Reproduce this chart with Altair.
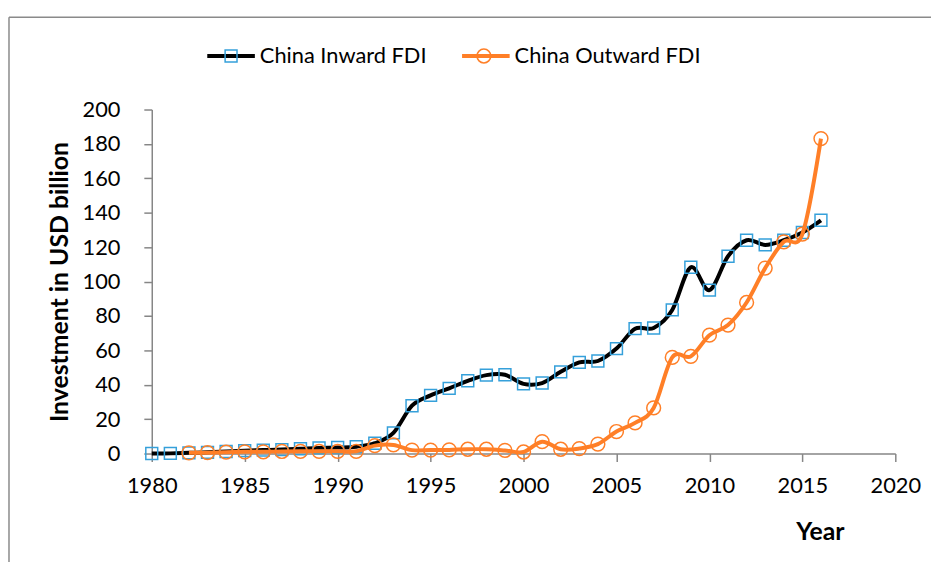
import altair as alt
import pandas as pd

# ---- data ----
years_in = list(range(1980, 2017))
inward = [0.0, 0.1, 0.4, 0.7, 1.2, 1.7, 2.0, 2.3, 2.8, 3.3,
          3.5, 4.0, 6.0, 12.0, 27.8, 33.8, 37.9, 42.3, 45.6, 45.8,
          40.5, 41.0, 47.5, 53.0, 53.8, 61.0, 72.6, 73.0, 83.5, 108.3,
          95.0, 114.7, 124.0, 121.3, 124.0, 128.5, 135.6]
years_out = list(range(1982, 2017))
outward = [0.4, 0.5, 0.8, 1.0, 1.0, 1.2, 1.3, 1.3, 1.3, 1.3,
           4.6, 5.0, 2.0, 2.0, 2.1, 2.5, 2.5, 1.8, 0.9, 6.9,
           2.5, 2.9, 5.5, 12.8, 17.8, 26.5, 55.9, 56.5, 68.8, 74.7,
           87.8, 107.8, 123.1, 127.6, 183.1]

SER_IN = "China Inward FDI"
SER_OUT = "China Outward FDI"
x_ticks = list(range(1980, 2021, 5))
y_ticks = list(range(0, 201, 20))

BLACK = "#000000"
ORANGE = "#FF7F27"
BLUE = "#35A0DA"
GRAY = "#8A8A8A"
FONT = "Lato"

df_in = pd.DataFrame({"year": years_in, "value": inward, "series": SER_IN, "mk": "In"})
df_out = pd.DataFrame({"year": years_out, "value": outward, "series": SER_OUT, "mk": "Out"})
df = pd.concat([df_in, df_out], ignore_index=True)

SQ = "M-1,0M1,0M-0.25,-0.25H0.25V0.25H-0.25Z"
CIRC = "M-1,0M1,0M0.29,0A0.29,0.29,0,1,1,-0.29,0A0.29,0.29,0,1,1,0.29,0Z"

PW = 750
LEG_X = 54
LEG_Y = -80

x_enc = alt.X("year:Q",
              scale=alt.Scale(domain=[1980, 2020], nice=False, zero=False),
              axis=alt.Axis(values=x_ticks, format="d", title="Year",
                            titleX=674, titleY=87, titleAlign="center",
                            titleBaseline="alphabetic", titleAnchor="start",
                            labelPadding=14, tickSize=8, labelFlush=False))
y_enc = alt.Y("value:Q",
              scale=alt.Scale(domain=[0, 200], nice=False),
              axis=alt.Axis(values=y_ticks, title="Investment in USD billion",
                            titleX=-93, titleY=173.5, titleAngle=270,
                            titleAlign="center", titleBaseline="middle",
                            titleAnchor="start", labelFlush=False,
                            labelPadding=24, tickSize=8))

color_enc = alt.Color("series:N",
                      scale=alt.Scale(domain=[SER_IN, SER_OUT], range=[BLACK, ORANGE]),
                      legend=alt.Legend(title=None, orient="none", legendX=LEG_X, legendY=LEG_Y,
                                        direction="horizontal", symbolType="stroke",
                                        symbolSize=2304, symbolStrokeWidth=4,
                                        labelOffset=3, columnPadding=27, labelLimit=400))

leg2 = alt.Legend(title=None, orient="none", legendX=LEG_X, legendY=LEG_Y + 1,
                  direction="horizontal", symbolSize=2304, symbolStrokeWidth=1.5,
                  symbolFillColor="transparent",
                  labelExpr="''", labelOffset=0, symbolOffset=1,
                  columnPadding=201)
stroke_enc = alt.Stroke("mk:N", scale=alt.Scale(domain=["In", "Out"], range=[BLUE, ORANGE]),
                        legend=leg2)
shape_enc = alt.Shape("mk:N", scale=alt.Scale(domain=["In", "Out"], range=[SQ, CIRC]),
                      legend=leg2)

base = alt.Chart(df)


def line_layer(ser):
    return base.transform_filter(alt.datum.series == ser).mark_line(
        interpolate="cardinal", strokeWidth=4).encode(x=x_enc, y=y_enc, color=color_enc)


def point_layer(ser):
    return base.transform_filter(alt.datum.series == ser).mark_point(
        filled=False, size=2304, strokeWidth=1.5, opacity=1).encode(
        x=x_enc, y=y_enc, stroke=stroke_enc, shape=shape_enc)


border_df = pd.DataFrame({"b": [0]})
left_border = alt.Chart(border_df).mark_rule(color=GRAY, strokeWidth=1.5).encode(
    x=alt.value(-144), y=alt.value(-93), y2=alt.value(700))
top_border = alt.Chart(border_df).mark_rule(color=GRAY, strokeWidth=1.5).encode(
    x=alt.value(-144), x2=alt.value(900), y=alt.value(-93))

chart = alt.layer(
    left_border, top_border,
    line_layer(SER_IN), point_layer(SER_IN),
    line_layer(SER_OUT), point_layer(SER_OUT),
).properties(
    width=PW, height=347,
    autosize=alt.AutoSizeParams(type="none"),
    padding={"left": 145, "top": 100, "right": 931 - 145 - PW, "bottom": 107},
    background="white",
).configure_view(stroke=None).configure_axis(
    grid=False, domainColor="#868686", domainWidth=1.5, tickColor="#868686", tickWidth=1.5,
    labelFont=FONT, labelFontSize=22, labelColor="#000000",
    titleFont=FONT, titleFontSize=25, titleFontWeight="bold", titleColor="#000000",
).configure_legend(
    labelFont=FONT, labelFontSize=22, labelColor="#000000",
)

chart.save("out.html", embed_options={"renderer": "svg", "actions": False})
